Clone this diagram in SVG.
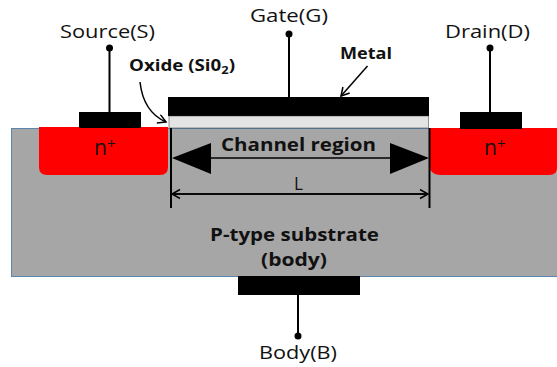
<svg xmlns="http://www.w3.org/2000/svg" width="557" height="367" viewBox="0 0 557 367">
<defs>
<style>
text{font-family:"Open Sans","DejaVu Sans",sans-serif;fill:#111}
.t{font-size:19px}
.n{font-size:21px}
.s{font-size:15px}
.b{font-weight:700;font-size:16px}
.c{font-weight:700;font-size:17.500px}
.w{stroke:#000;stroke-width:2;fill:none}
.k{fill:#000}
</style>
<marker id="o" markerWidth="12" markerHeight="12" refX="9" refY="5" orient="auto" markerUnits="userSpaceOnUse"><path d="M1 0.5L9 5L1 9.500" fill="none" stroke="#000" stroke-width="1.500"/></marker>
</defs>
<g id="substrate"><rect x="11.500" y="128.500" width="546" height="148" fill="#a6a6a6" stroke="#5b86ad" stroke-width="1"/></g>
<g id="source-region"><path d="M39 127H168V167Q168 175 160 175H47Q39 175 39 167Z" fill="#f00"/><text x="94" y="155" class="n">n<tspan class="s" dy="-6">+</tspan></text></g>
<g id="drain-region"><path d="M429 128H557V168Q557 175 549 175H441Q429 175 429 163Z" fill="#f00"/><text x="484" y="155" class="n">n<tspan class="s" dy="-6">+</tspan></text></g>
<g id="source"><rect x="79" y="112" width="62" height="16" class="k"/><text x="60" y="38" class="t" textLength="95" lengthAdjust="spacingAndGlyphs">Source(S)</text></g>
<g id="drain"><rect x="460" y="112" width="62" height="17" class="k"/><text x="445" y="38" class="t" textLength="85" lengthAdjust="spacingAndGlyphs">Drain(D)</text></g>
<g id="gate"><rect x="168" y="97" width="261" height="19" class="k"/><text x="250" y="22" class="t" textLength="78" lengthAdjust="spacingAndGlyphs">Gate(G)</text></g>
<g id="oxide"><rect x="169" y="116" width="259.500" height="12" fill="#e4e4e4" stroke="#333" stroke-width="0.500"/><text x="129" y="71" class="b" textLength="106" lengthAdjust="spacingAndGlyphs">Oxide (Si0<tspan font-size="11" dy="3">2</tspan><tspan dy="-3">)</tspan></text></g>
<g id="metal"><text x="340" y="59" class="b" textLength="52" lengthAdjust="spacingAndGlyphs">Metal</text></g>
<g id="channel"><text x="221" y="151" class="c" textLength="155" lengthAdjust="spacingAndGlyphs">Channel region</text><path d="M172 158L211 143V174Z" class="k"/><path d="M429 158L390 143V174Z" class="k"/></g>
<g id="length"><text x="294" y="190" class="t" textLength="9" lengthAdjust="spacingAndGlyphs">L</text></g>
<g id="body-label"><text x="210" y="241" class="c" textLength="169" lengthAdjust="spacingAndGlyphs">P-type substrate</text><text x="261" y="266" class="c" textLength="66" lengthAdjust="spacingAndGlyphs">(body)</text></g>
<g id="body"><rect x="238" y="276" width="122" height="19" class="k"/><text x="259" y="359" class="t" textLength="78" lengthAdjust="spacingAndGlyphs">Body(B)</text></g>
<g id="connectors">
<path d="M109.500 48V112M490 48V112M289 34V97M298 295V336" class="w"/>
<circle cx="109.500" cy="48" r="3.500" class="k"/><circle cx="490" cy="48" r="3.500" class="k"/><circle cx="289" cy="34" r="3.500" class="k"/><circle cx="298" cy="336" r="3.500" class="k"/>
<path d="M171 128V208M429.500 128V208" class="w"/>
<path d="M211 158H390" stroke="#000" stroke-width="1.500"/>
<path d="M172 194H428" stroke="#000" stroke-width="1.500" fill="none" marker-end="url(#o)"/>
<path d="M428 194H172" stroke="#000" stroke-width="1.500" fill="none" marker-end="url(#o)"/>
<path d="M140 82C142 100 150 115 166 122" stroke="#000" stroke-width="1.500" fill="none" marker-end="url(#o)"/>
<path d="M367.500 66L341 96" stroke="#000" stroke-width="1.500" fill="none" marker-end="url(#o)"/>
</g>
</svg>
